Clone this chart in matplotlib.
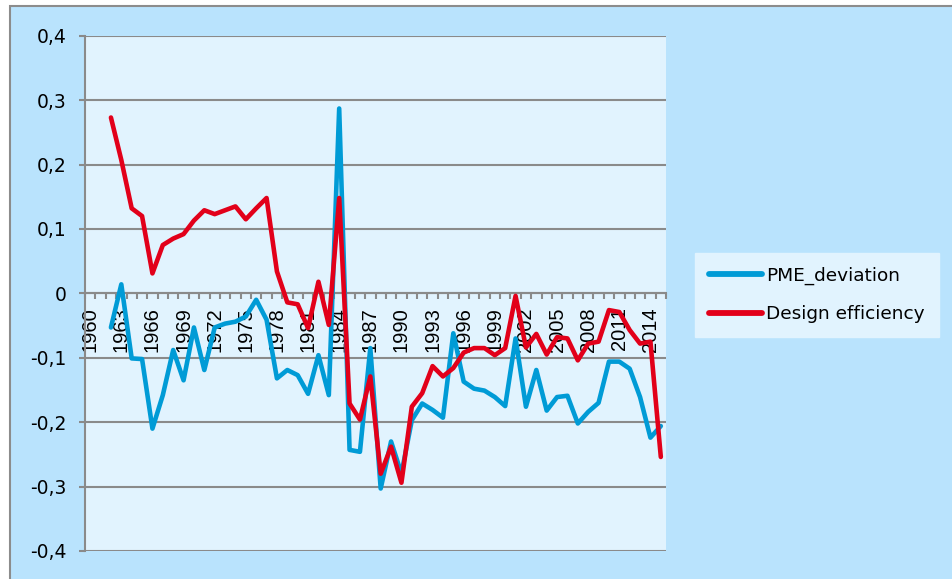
import matplotlib
matplotlib.use('Agg')
import matplotlib.pyplot as plt
from matplotlib.patches import Rectangle
from matplotlib.ticker import FixedLocator, FuncFormatter

W, H = 952, 579

years = list(range(1962, 2016))

pme_deviation = [
    -0.053, 0.014, -0.101, -0.102, -0.210, -0.158, -0.088, -0.135, -0.053, -0.119,
    -0.053, -0.047, -0.044, -0.036, -0.010, -0.041, -0.132, -0.119, -0.127, -0.156,
    -0.096, -0.158, 0.287, -0.243, -0.246, -0.085, -0.303, -0.230, -0.280, -0.197,
    -0.171, -0.181, -0.193, -0.062, -0.137, -0.148, -0.151, -0.161, -0.175, -0.070,
    -0.176, -0.119, -0.182, -0.161, -0.159, -0.202, -0.184, -0.170, -0.106, -0.106,
    -0.117, -0.161, -0.224, -0.206,
]

design_efficiency = [
    0.273, 0.207, 0.132, 0.120, 0.031, 0.075, 0.085, 0.092, 0.113, 0.129,
    0.123, 0.129, 0.135, 0.115, 0.132, 0.148, 0.034, -0.014, -0.017, -0.054,
    0.018, -0.049, 0.148, -0.171, -0.196, -0.129, -0.280, -0.238, -0.294, -0.176,
    -0.155, -0.113, -0.129, -0.116, -0.092, -0.085, -0.085, -0.096, -0.085, -0.004,
    -0.084, -0.063, -0.095, -0.068, -0.070, -0.104, -0.078, -0.075, -0.026, -0.029,
    -0.057, -0.078, -0.075, -0.254,
]

first_year, last_year = 1960, 2015
y_ticks = [-0.4, -0.3, -0.2, -0.1, 0.0, 0.1, 0.2, 0.3, 0.4]

OUTER = '#b9e3fd'
INNER = '#e1f3fe'
GRID = '#8a8a8a'
BLUE = '#009bd6'
RED = '#e2001a'


def comma_fmt(v, _):
    if abs(v) < 1e-9:
        return '0'
    return f'{v:.1f}'.replace('.', ',')


def main():
    fig = plt.figure(figsize=(W / 100, H / 100), dpi=100)
    fig.patch.set_facecolor('white')
    fig.patches.append(Rectangle((10 / W, -0.05), 1.2, 1 - 6 / H + 0.05,
                                 transform=fig.transFigure, facecolor=OUTER,
                                 edgecolor='#8c8c8c', linewidth=1.5, zorder=-10))

    ax = fig.add_axes([85 / W, 1 - 551 / H, (666 - 85) / W, (551 - 35.7) / H])
    ax.set_facecolor(INNER)

    ax.plot(years, pme_deviation, color=BLUE, lw=3.3, label='PME_deviation',
            solid_joinstyle='round', solid_capstyle='round', zorder=3)
    ax.plot(years, design_efficiency, color=RED, lw=3.3, label='Design efficiency',
            solid_joinstyle='round', solid_capstyle='round', zorder=3)

    ax.set_xlim(first_year - 0.5, last_year + 0.5)
    ax.set_ylim(-0.4, 0.4)

    # grid
    ax.yaxis.set_major_locator(FixedLocator(y_ticks))
    ax.yaxis.set_major_formatter(FuncFormatter(comma_fmt))
    ax.grid(axis='y', color=GRID, lw=1.5, zorder=1)
    ax.set_axisbelow(True)

    # spines
    for side in ('top', 'right'):
        ax.spines[side].set_visible(False)
    ax.spines['left'].set_color(GRID)
    ax.spines['left'].set_linewidth(1.5)
    ax.spines['bottom'].set_position(('data', 0))
    ax.spines['bottom'].set_color(GRID)
    ax.spines['bottom'].set_linewidth(1.5)

    ax.tick_params(axis='y', length=4.3, width=1.5, color=GRID, pad=9,
                   labelsize=13.5, labelcolor='black')
    for lab in ax.get_yticklabels():
        lab.set_fontfamily('DejaVu Sans')

    # category axis: ticks between categories, labels every 3rd year
    label_years = list(range(first_year, last_year + 1, 3))
    ax.set_xticks(label_years)
    ax.set_xticklabels([str(y) for y in label_years], rotation=90,
                       fontfamily='Liberation Sans', fontsize=14.5)
    ax.set_xticks([y + 0.5 for y in range(first_year - 1, last_year + 1)], minor=True)
    ax.tick_params(axis='x', which='major', length=0, pad=10)
    ax.tick_params(axis='x', which='minor', length=4, width=1.5, color=GRID)

    leg = ax.legend(loc='upper left', bbox_to_anchor=(695 / W, 1 - 253 / H),
                    bbox_transform=fig.transFigure, frameon=True, fancybox=False,
                    handlelength=2.9, handletextpad=0.2, labelspacing=1.1,
                    borderpad=0.75, borderaxespad=0, prop={'family': 'DejaVu Sans', 'size': 13.3})
    leg.get_frame().set_facecolor(INNER)
    leg.get_frame().set_edgecolor(INNER)
    leg.get_frame().set_alpha(1)
    for line in leg.get_lines():
        line.set_linewidth(4.2)
        line.set_solid_capstyle('round')

    fig.savefig('out.png', dpi=100)


if __name__ == '__main__':
    main()
